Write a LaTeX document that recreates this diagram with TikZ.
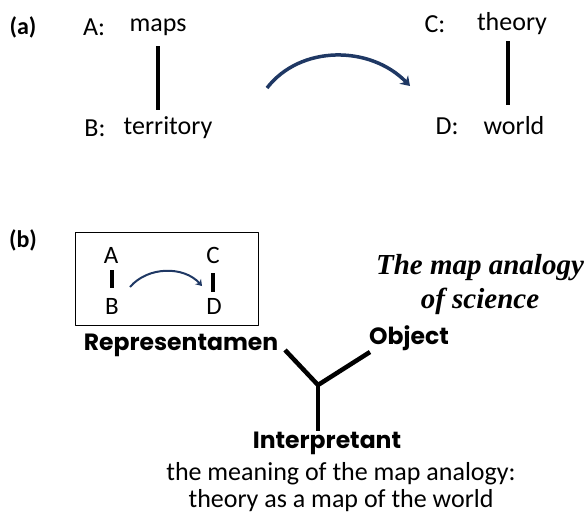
\documentclass[tikz,border=0pt]{standalone}
\usepackage{fontspec}
\setmainfont{Carlito}
\newfontfamily\titlefont{Liberation Serif}
\newfontfamily\signfont{Poppins}
\usetikzlibrary{arrows.meta}
\definecolor{arcblue}{HTML}{1F3864}
\tikzset{
  txt/.style={inner sep=0pt, font=\fontsize{26}{28}\selectfont},
  small/.style={inner sep=0pt, font=\fontsize{25}{27}\selectfont},
  sign/.style={inner sep=0pt, font=\signfont\bfseries\fontsize{23.5}{25}\selectfont},
  bar/.style={line width=4pt},
  leg/.style={line width=4.5pt},
  swing/.style={arcblue, line width=3.5pt, -{Stealth[length=9pt,width=12pt]}}
}
\begin{document}
\begin{tikzpicture}[x=1pt, y=-1pt, line cap=butt, line join=round]
  \useasboundingbox (0,0) rectangle (588,522);
  % (a)
  \node[txt, font=\bfseries\fontsize{24}{26}\selectfont] (la) at (23,27) {(a)};
  \node[txt] (a) at (94,27) {A:};
  \node[txt] (maps) at (158,27) {maps};
  \node[txt] (b) at (95,128) {B:};
  \node[txt] (terr) at (168,128) {territory};
  \draw[bar] (158,46) -- (158,110);
  \node[txt] (c) at (435,24) {C:};
  \node[txt] (theory) at (512,24) {theory};
  \node[txt] (d) at (447,126) {D:};
  \node[txt] (world) at (514,126) {world};
  \draw[bar] (508,41) -- (508,105);
  \draw[swing] (267,88) .. controls (300,45) and (370,45) .. (410,86);
  % (b)
  \node[txt, font=\bfseries\fontsize{24}{26}\selectfont] (lb) at (23,240) {(b)};
  \draw[line width=1pt] (75,232) rectangle (258,325);
  \node[small] (ia) at (111,255) {A};
  \node[small] (ib) at (112,306) {B};
  \node[small] (ic) at (213,255) {C};
  \node[small] (id) at (214,306) {D};
  \draw[line width=3.5pt] (112,270) -- (112,288);
  \draw[line width=3.5pt] (213,273) -- (213,292);
  \draw[arcblue, line width=2pt, -{Stealth[length=6pt,width=8pt]}]
    (130,287) .. controls (148,266) and (184,266) .. (202,286);
  % the title
  \node[inner sep=0pt, align=center, font=\titlefont\bfseries\itshape\fontsize{29}{34}\selectfont]
    (title) at (480,285) {The map analogy\\of science};
  % the sign
  \node[sign] (rep) at (181,345) {Representamen};
  \node[sign] (obj) at (409,338) {Object};
  \node[sign] (int) at (327,443) {Interpretant};
  \coordinate (j) at (318,385);
  \draw[leg] (285,350) -- (j);
  \draw[leg] (370,352) -- (j);
  \draw[leg] (j) -- (j |- int.north);
  \node[txt, align=center, font=\fontsize{26}{27}\selectfont] (mean) at (341,487)
    {the meaning of the map analogy:\\theory as a map of the world};
\end{tikzpicture}
\end{document}
